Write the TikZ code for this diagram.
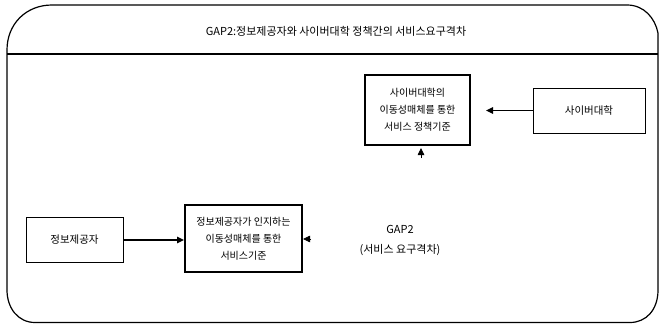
\documentclass[tikz,border=0pt]{standalone}
\usepackage{fontspec}
\setmainfont{Liberation Sans}
\newfontfamily\kr{Noto Sans CJK KR}
\usetikzlibrary{arrows.meta,calc}
\begin{document}
\begin{tikzpicture}[x=1pt,y=-1pt,
  thickbox/.style={draw,line width=2pt,minimum width=#1,align=center,inner sep=0pt,font=\kr\fontsize{10}{17}\selectfont},
  thinbox/.style={draw,line width=0.9pt,align=center,inner sep=0pt,font=\kr\fontsize{10.5}{17}\selectfont},
  arr/.style={line width=1.4pt,-{Triangle[length=7pt,width=6.5pt]}},
  tip/.style={line width=0.8pt,-{Triangle[length=7pt,width=6.5pt]}},
  lbl/.style={font=\kr\fontsize{11}{20}\selectfont,align=center,inner sep=0pt}]
\useasboundingbox (0,0) rectangle (659,324);
% outer frame
\draw[line width=1.2pt] (7,50) .. controls (7,24) and (26,5) .. (52,5) -- (627,5)
  .. controls (644,5) and (655,18) .. (658,33) -- (658,290)
  .. controls (658,310) and (646,322.5) .. (630,322.5) -- (35,322.5)
  .. controls (18,322.5) and (7,308) .. (7,290) -- cycle;
\draw[line width=1.2pt] (7,54) -- (658,54);
\node[lbl] (title) at (336,31) {GAP2:정보제공자와 사이버대학 정책간의 서비스요구격차};
% boxes
\node[thickbox=105pt,minimum height=70pt] (A) at (417.5,110) {사이버대학의\\이동성매체를 통한\\서비스 정책기준};
\node[thinbox,minimum width=112pt,minimum height=45pt] (B) at (589,110.5) {사이버대학};
\node[thinbox,minimum width=97pt,minimum height=45pt] (C) at (74.5,240) {정보제공자};
\node[thickbox=117pt,minimum height=67pt] (D) at (243.5,238.5) {정보제공자가 인지하는\\이동성매체를 통한\\서비스기준};
\node[lbl] (gap) at (400,240) {GAP2\\(서비스 요구격차)};
% connectors
\draw[arr] (C.east) -- (C.east -| D.west);
\coordinate (Aend) at ($(B.west -| A.east)+(15,0)$);
\draw[arr] (B.west) -- (Aend);
% arrowhead stubs
\coordinate (u1) at (421,158);
\coordinate (u2) at (421,148);
\draw[tip] (u1) -- (u2);
\coordinate (l1) at (311,239);
\coordinate (l2) at (D.east |- l1);
\draw[tip] (l1) -- (l2);
\end{tikzpicture}
\end{document}
